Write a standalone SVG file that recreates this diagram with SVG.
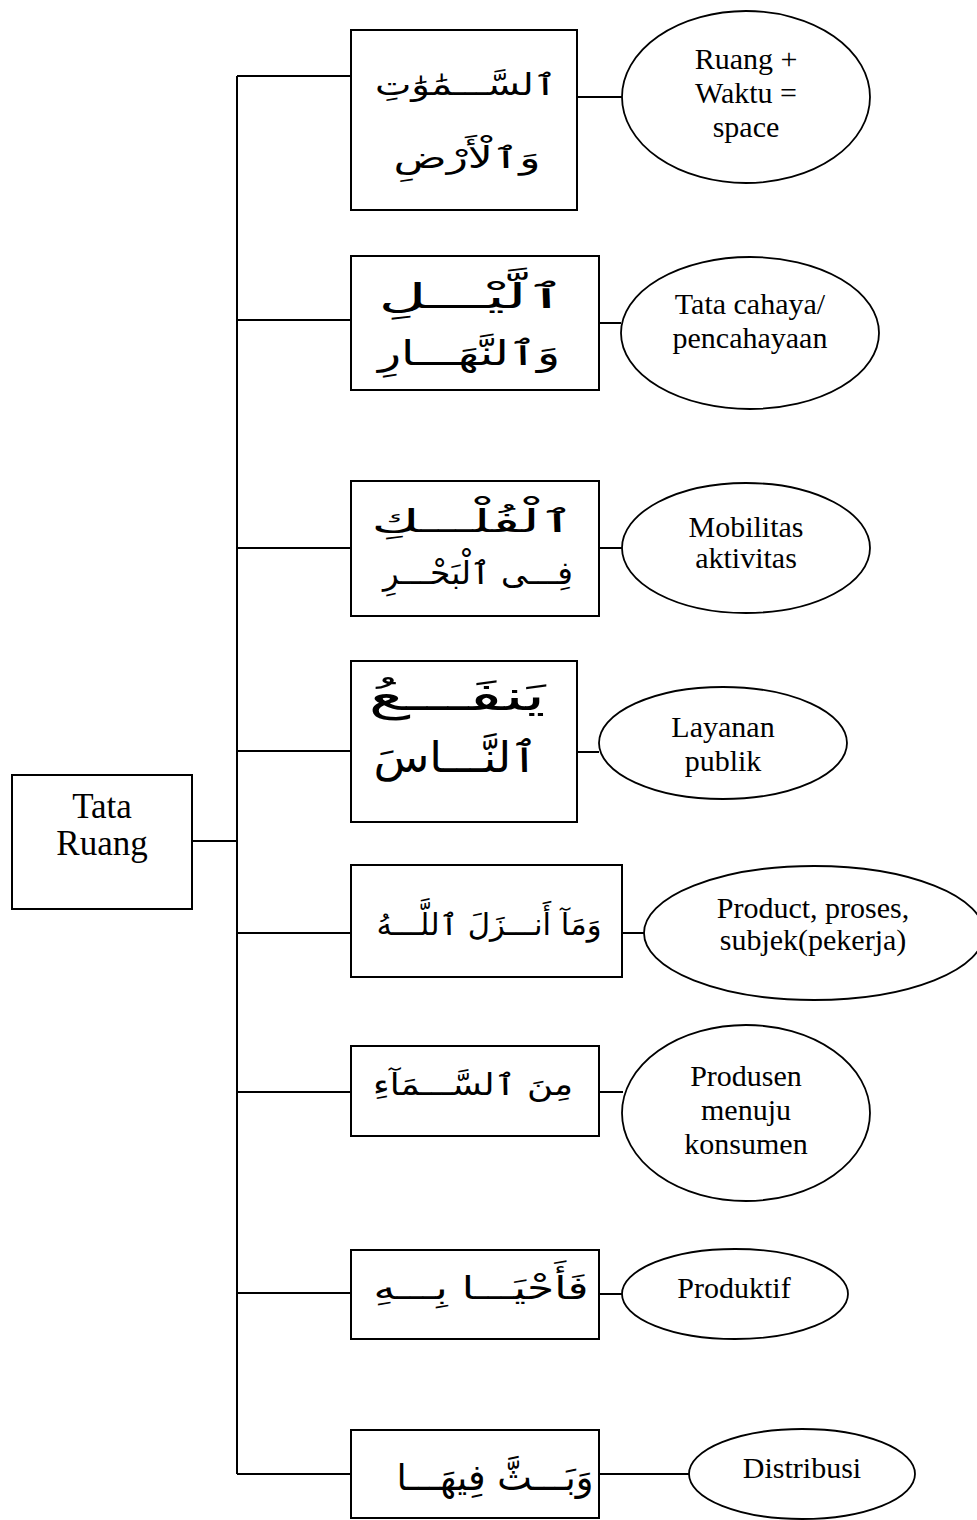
<svg xmlns="http://www.w3.org/2000/svg" width="977" height="1520" viewBox="0 0 977 1520">
<style>
.box{fill:#fff;stroke:#000;stroke-width:2}
.ell{fill:#fff;stroke:#000;stroke-width:1.8}
.ln{stroke:#000;stroke-width:2;fill:none}
.lt{font-family:"Liberation Serif","Times New Roman",serif;font-size:30px;fill:#000;text-anchor:middle}
.ar{font-family:"DejaVu Sans",sans-serif;fill:#000;text-anchor:middle;direction:rtl}
</style>
<rect width="977" height="1520" fill="#fff"/>
<g id="connectors">
<path class="ln" d="M192 841H237M237 76V1474M237 76H351M237 320H351M237 548H351M237 751H351M237 933H351M237 1092H351M237 1293H351M237 1474H351"/>
<path class="ln" d="M577 97H622M599 323H621M599 548H622M577 752H599M622 933H644M599 1092H623M599 1294H622M599 1474H690"/>
</g>
<g id="root">
<rect class="box" x="12" y="775" width="180" height="134"/>
<text class="lt" style="font-size:35px" x="102" y="818">Tata</text>
<text class="lt" style="font-size:35px" x="102" y="855">Ruang</text>
</g>
<g id="n1">
<rect class="box" x="351" y="30" width="226" height="180"/>
<text class="ar" font-size="30" x="466" y="95" textLength="182" lengthAdjust="spacingAndGlyphs">ٱلسَّـــمَٰوَٰتِ</text>
<text class="ar" font-size="30" x="467" y="168" textLength="147" lengthAdjust="spacingAndGlyphs">وَٱلْأَرْضِ</text>
</g>
<g id="n2">
<rect class="box" x="351" y="256" width="248" height="134"/>
<text class="ar" font-size="34" x="472" y="308" textLength="187" lengthAdjust="spacingAndGlyphs">ٱلَّيْـــلِ</text>
<text class="ar" font-size="34" x="469" y="365" textLength="182" lengthAdjust="spacingAndGlyphs">وَٱلنَّهَـــارِ</text>
</g>
<g id="n3">
<rect class="box" x="351" y="481" width="248" height="135"/>
<text class="ar" font-size="32" x="473" y="532" textLength="203" lengthAdjust="spacingAndGlyphs">ٱلْفُلْـــكِ</text>
<text class="ar" font-size="32" x="478" y="584" textLength="190" lengthAdjust="spacingAndGlyphs">فِـــى ٱلْبَحْـــرِ</text>
</g>
<g id="n4">
<rect class="box" x="351" y="661" width="226" height="161"/>
<text class="ar" font-size="42" x="457" y="710" textLength="177" lengthAdjust="spacingAndGlyphs">يَنفَـــعُ</text>
<text class="ar" font-size="42" x="456" y="772" textLength="165" lengthAdjust="spacingAndGlyphs">ٱلنَّـــاسَ</text>
</g>
<g id="n5">
<rect class="box" x="351" y="865" width="271" height="112"/>
<text class="ar" font-size="30" x="489" y="935" textLength="225" lengthAdjust="spacingAndGlyphs">وَمَآ أَنـــزَلَ ٱللَّـــهُ</text>
</g>
<g id="n6">
<rect class="box" x="351" y="1046" width="248" height="90"/>
<text class="ar" font-size="30" x="473" y="1095" textLength="200" lengthAdjust="spacingAndGlyphs">مِنَ ٱلسَّـــمَآءِ</text>
</g>
<g id="n7">
<rect class="box" x="351" y="1250" width="248" height="89"/>
<text class="ar" font-size="32" x="481" y="1299" textLength="215" lengthAdjust="spacingAndGlyphs">فَأَحْيَـــا بِـــهِ</text>
</g>
<g id="n8">
<rect class="box" x="351" y="1430" width="248" height="88"/>
<text class="ar" font-size="36" x="495" y="1490" textLength="197" lengthAdjust="spacingAndGlyphs">وَبَـــثَّ فِيهَـــا</text>
</g>
<g id="e1">
<ellipse class="ell" cx="746" cy="97" rx="124" ry="86"/>
<text class="lt" x="746" y="69">Ruang +</text>
<text class="lt" x="746" y="103">Waktu =</text>
<text class="lt" x="746" y="137">space</text>
</g>
<g id="e2">
<ellipse class="ell" cx="750" cy="333" rx="129" ry="76"/>
<text class="lt" x="750" y="314">Tata cahaya/</text>
<text class="lt" x="750" y="348">pencahayaan</text>
</g>
<g id="e3">
<ellipse class="ell" cx="746" cy="548" rx="124" ry="65"/>
<text class="lt" x="746" y="537">Mobilitas</text>
<text class="lt" x="746" y="568">aktivitas</text>
</g>
<g id="e4">
<ellipse class="ell" cx="723" cy="743" rx="124" ry="56"/>
<text class="lt" x="723" y="737">Layanan</text>
<text class="lt" x="723" y="771">publik</text>
</g>
<g id="e5">
<ellipse class="ell" cx="814" cy="933" rx="170" ry="67"/>
<text class="lt" x="813" y="918">Product, proses,</text>
<text class="lt" x="813" y="950">subjek(pekerja)</text>
</g>
<g id="e6">
<ellipse class="ell" cx="746" cy="1113" rx="124" ry="88"/>
<text class="lt" x="746" y="1086">Produsen</text>
<text class="lt" x="746" y="1120">menuju</text>
<text class="lt" x="746" y="1154">konsumen</text>
</g>
<g id="e7">
<ellipse class="ell" cx="735" cy="1294" rx="113" ry="45"/>
<text class="lt" x="734" y="1298">Produktif</text>
</g>
<g id="e8">
<ellipse class="ell" cx="802" cy="1474" rx="113" ry="45"/>
<text class="lt" x="802" y="1478">Distribusi</text>
</g>
</svg>
